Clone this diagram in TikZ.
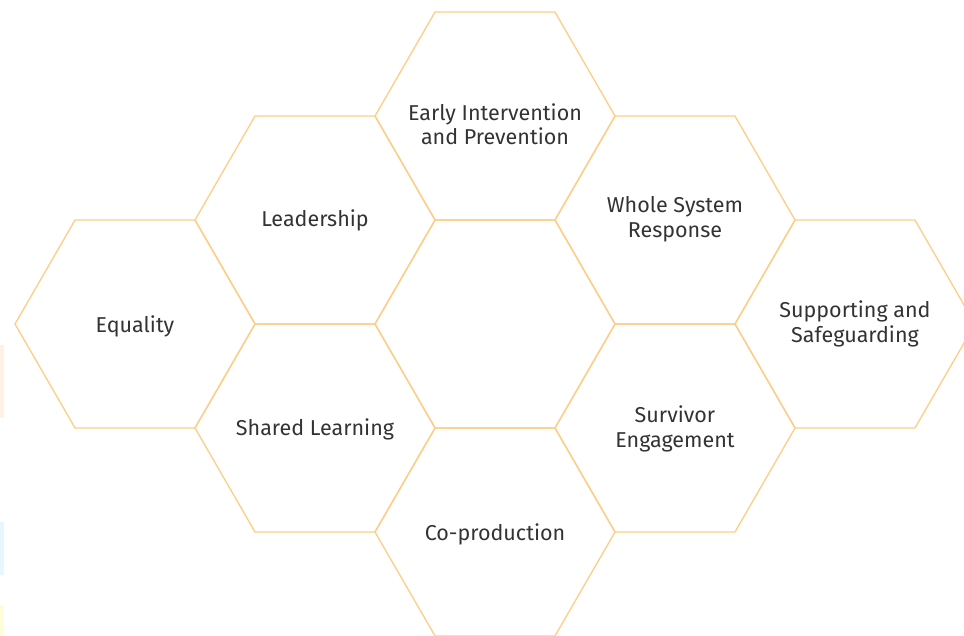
\documentclass[tikz,border=0pt]{standalone}
\usepackage{fontspec}
\setmainfont{Fira Sans}
\usetikzlibrary{shapes.geometric}
\definecolor{hexline}{HTML}{FFCD85}
\definecolor{labeltext}{HTML}{333333}
\begin{document}
\begin{tikzpicture}[x=1pt,y=-1pt,
  hexcell/.style={regular polygon, regular polygon sides=6,
    minimum size=240pt, inner sep=0pt, outer sep=0pt, draw=hexline, line width=1.3pt},
  hexlabel/.style={text=labeltext, font=\fontsize{21.5}{24.5}\selectfont, align=center}]
  \useasboundingbox (0,0) rectangle (964,636);
  \fill[white] (0,0) rectangle (964,636);
  % faint colour strips on the left edge
  \fill[orange!10] (0,345) rectangle (4,418);
  \fill[cyan!10] (0,522) rectangle (4,575);
  \fill[yellow!15] (0,605) rectangle (4,636);
  % honeycomb cells
  \node[hexcell] (early)  at (495,116) {};
  \node[hexcell] (lead)   at (315,220) {};
  \node[hexcell] (whole)  at (675,220) {};
  \node[hexcell] (equal)  at (135,324) {};
  \node[hexcell] (centre) at (495,324) {};
  \node[hexcell] (supp)   at (855,324) {};
  \node[hexcell] (shared) at (315,428) {};
  \node[hexcell] (surv)   at (675,428) {};
  \node[hexcell] (coprod) at (495,532) {};
  % labels
  \node[hexlabel] (tEarly)  at (495,124) {Early Intervention\\and Prevention};
  \node[hexlabel] (tLead)   at (315,220) {Leadership};
  \node[hexlabel] (tWhole)  at (675,219) {Whole System\\Response};
  \node[hexlabel] (tEqual)  at (135,326) {Equality};
  \node[hexlabel] (tSupp)   at (855,324) {Supporting and\\Safeguarding};
  \node[hexlabel] (tShared) at (315,429) {Shared Learning};
  \node[hexlabel] (tSurv)   at (675,429) {Survivor\\Engagement};
  \node[hexlabel] (tCoprod) at (495,534) {Co-production};
\end{tikzpicture}
\end{document}
